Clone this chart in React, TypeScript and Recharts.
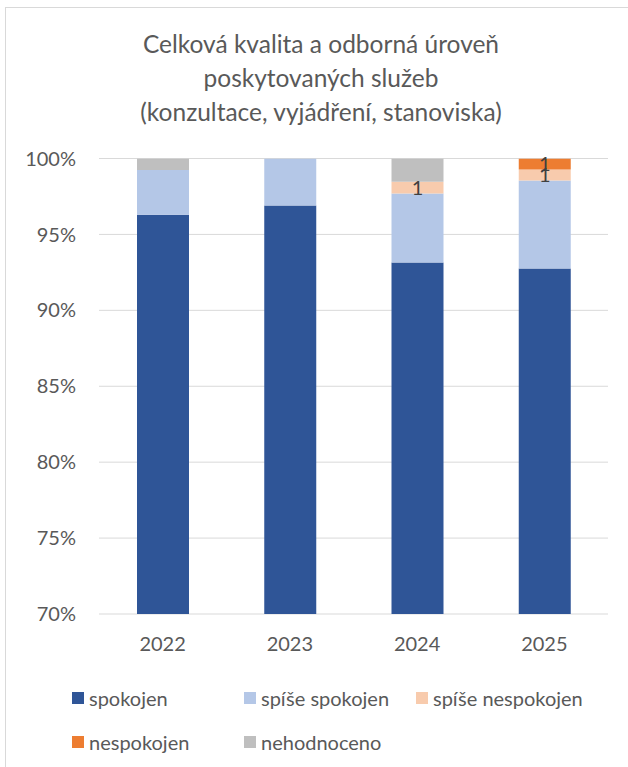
import React from "react";
import { BarChart, Bar, XAxis, YAxis, CartesianGrid, LabelList } from "recharts";

const categories = ["2022", "2023", "2024", "2025"];
const spokojen = [96.3, 96.9, 93.15, 92.75];
const spiseSpokojen = [2.95, 3.1, 4.55, 5.8];
const spiseNespokojen = [0, 0, 0.77, 0.72];
const nespokojen = [0, 0, 0, 0.73];
const nehodnoceno = [0.75, 0, 1.53, 0];
const spiseNespokojenLabels = ["", "", "1", "1"];
const nespokojenLabels = ["", "", "", "1"];
const yTicks = [70, 75, 80, 85, 90, 95, 100];
const titleLines = [
  "Celková kvalita a odborná úroveň",
  "poskytovaných služeb",
  "(konzultace, vyjádření, stanoviska)",
];

const series = [
  { key: "spokojen", name: "spokojen", color: "#2F5597" },
  { key: "spiseSpokojen", name: "spíše spokojen", color: "#B4C7E7" },
  { key: "spiseNespokojen", name: "spíše nespokojen", color: "#F8CBAD" },
  { key: "nespokojen", name: "nespokojen", color: "#ED7D31" },
  { key: "nehodnoceno", name: "nehodnoceno", color: "#BFBFBF" },
];

const data = categories.map((c, i) => ({
  year: c,
  spokojen: spokojen[i],
  spiseSpokojen: spiseSpokojen[i],
  spiseNespokojen: spiseNespokojen[i],
  nespokojen: nespokojen[i],
  nehodnoceno: nehodnoceno[i],
  lblSN: spiseNespokojenLabels[i],
  lblN: nespokojenLabels[i],
}));

const FONT = "Lato, 'Noto Sans', sans-serif";
const TXT = "#595959";

const legendPos = [
  { x: 72, y: 698 },
  { x: 244, y: 698 },
  { x: 416, y: 698 },
  { x: 72, y: 742 },
  { x: 244, y: 742 },
];

export default function App() {
  return (
    <div
      style={{
        position: "absolute",
        left: 0,
        top: 0,
        width: 628,
        height: 767,
        overflow: "hidden",
        background: "#fff",
        fontFamily: FONT,
      }}
    >
      <div style={{ position: "absolute", left: 5, top: 7, width: 623, height: 1, background: "#d9d9d9" }} />
      <div style={{ position: "absolute", left: 5, top: 7, width: 1, height: 760, background: "#d9d9d9" }} />
      <div
        style={{
          position: "absolute",
          left: 0,
          top: 27,
          width: 642,
          textAlign: "center",
          color: TXT,
          fontSize: 24.5,
          lineHeight: "34px",
        }}
      >
        {titleLines.map((t) => (
          <div key={t}>{t}</div>
        ))}
      </div>
      <div style={{ position: "absolute", left: 0, top: 0 }}>
        <BarChart
          width={628}
          height={767}
          data={data}
          margin={{ top: 158.5, right: 20, bottom: 113, left: 0 }}
          barSize={52}
        >
          <CartesianGrid vertical={false} stroke="#d9d9d9" strokeWidth={1} />
          <XAxis
            dataKey="year"
            axisLine={false}
            tickLine={false}
            tickSize={0}
            tickMargin={23}
            height={40}
            tick={{ fill: TXT, fontSize: 20, fontFamily: FONT }}
          />
          <YAxis
            domain={[70, 100]}
            ticks={yTicks}
            allowDataOverflow
            width={99}
            axisLine={false}
            tickLine={false}
            tickSize={0}
            tickMargin={23}
            tickFormatter={(v: number) => `${v}%`}
            tick={{ fill: TXT, fontSize: 20, fontFamily: FONT }}
          />
          {series.map((s) => (
            <Bar
              key={s.key}
              dataKey={s.key}
              name={s.name}
              stackId="a"
              fill={s.color}
              isAnimationActive={false}
            >
              {s.key === "spiseNespokojen" && (
                <LabelList dataKey="lblSN" position="center" fill="#404040" fontSize={20} fontFamily={FONT} />
              )}
              {s.key === "nespokojen" && (
                <LabelList dataKey="lblN" position="center" fill="#404040" fontSize={20} fontFamily={FONT} />
              )}
            </Bar>
          ))}
        </BarChart>
      </div>
      {series.map((s, i) => (
        <div
          key={s.key}
          style={{
            position: "absolute",
            left: legendPos[i].x,
            top: legendPos[i].y - 13,
            height: 26,
            display: "flex",
            alignItems: "center",
            color: TXT,
            fontSize: 20,
            whiteSpace: "nowrap",
          }}
        >
          <span style={{ display: "inline-block", width: 12, height: 12, background: s.color, marginRight: 5 }} />
          <span>{s.name}</span>
        </div>
      ))}
    </div>
  );
}
